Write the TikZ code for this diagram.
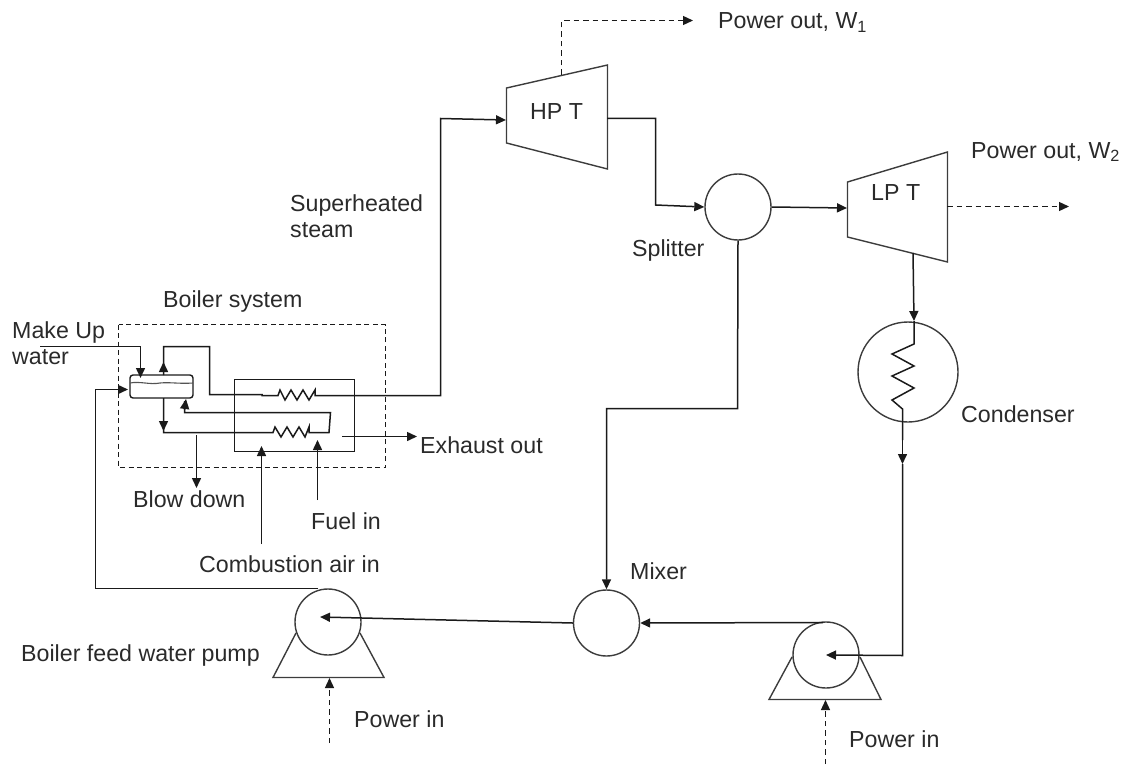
\documentclass[tikz,border=0pt]{standalone}
\usepackage{fontspec}
\setmainfont{Liberation Sans}
\usetikzlibrary{arrows.meta,calc}
\definecolor{ink}{HTML}{1A1A1A}
\definecolor{lab}{HTML}{2A2A2A}
\tikzset{
  pipe/.style={draw=ink,line width=1.5pt,line join=miter},
  flow/.style={pipe,-{Triangle[length=10pt,width=9pt]}},
  dflow/.style={flow,line width=1.3pt,dash pattern=on 5.5pt off 4pt},
  shapeline/.style={draw=ink!85,line width=1.4pt},
  disc/.style={circle,draw=ink!85,line width=1.4pt,inner sep=0pt,minimum size=#1},
  lbl/.style={text=lab,font=\fontsize{23.2pt}{26pt}\selectfont,inner sep=0pt,anchor=base west},
  lbll/.style={lbl,align=left,anchor=north west}
}
\begin{document}
\begin{tikzpicture}[x=1pt,y=-1pt]
\useasboundingbox (0,0) rectangle (1126,765);
% --- units
\node[disc=66pt] (splitter) at (738,207) {};
\node[disc=66pt] (mixer) at (606.5,623) {};
\node[disc=66pt] (pumpA) at (328,622) {};
\node[disc=66pt] (pumpB) at (826,655) {};
\node[disc=100pt] (cond) at (908,372) {};
\coordinate (pumpAc) at (320,617);
\coordinate (pumpBc) at (826,655);
% turbines
\path[shapeline] (506.5,88) -- (607.5,65) -- (607.5,169) -- (506.5,143) -- cycle;
\path[shapeline] (847.5,182) -- (947.5,152) -- (947.5,262) -- (847.5,237) -- cycle;
\node[lbl] (hp) at (530,120) {HP T};
\node[lbl] (lp) at (871,200) {LP T};
% pump bases
\draw[shapeline] (296,633) -- (273,677.5) -- (384,677.5) -- (360,633);
\draw[shapeline] (792,657) -- (769,699.5) -- (881,699.5) -- (860,657);
% boiler
\draw[draw=ink,line width=1.3pt,dash pattern=on 5pt off 3.5pt] (118.5,324.5) rectangle (385.5,467.5);
\node[draw=ink,line width=1.4pt,rounded corners=3pt,minimum width=63pt,minimum height=23pt,inner sep=0pt] (drum) at (161.5,386.5) {};
\draw[ink!75,line width=1.1pt] (130,383) .. controls (140,381) and (150,385) .. (160,383) .. controls (170,382) and (180,384) .. (193,383);
\draw[pipe] (234.5,379.5) rectangle (354.5,451.5);
\coordinate (w1) at (40,346.5);
\coordinate (w2) at (140.5,346.5);
\coordinate (w3) at (140.5,378);
\draw[flow] (w1) -- (w2) -- (w3);
% coil top and superheated steam
\coordinate (hptin) at (506,120);
\draw[flow] (163.5,375) -- (163.5,346.5) -- (209.5,346.5) -- (209.5,394.5) -- (262,394.5) -- (262,395.5) -- (278,395.5)
  -- (280,390) -- (285,400) -- (291,390) -- (297,400) -- (303,390) -- (309,400) -- (315,390) -- (315,395.5)
  -- (440.5,395.5) -- (440.5,118.5) -- (hptin);
\draw[flow] (163.5,375) -- (163.5,362);
% lower coil
\draw[pipe] (163.5,398) -- (163.5,432.5) -- (273,432.5) -- (275,427) -- (281,437) -- (287,427) -- (293,437) -- (299,427) -- (305,437) -- (309,427) -- (309,432.5) -- (329,432.5) -- (330.5,412.5) -- (184.5,412.5) -- (184.5,401);
\draw[flow] (184.5,410) -- (186,399);
\draw[flow] (163.5,398) -- (163.5,431);
% small flows
\coordinate (bd1) at (196.5,435); \coordinate (bd2) at (196.5,488);
\draw[flow] (bd1) -- (bd2);
\coordinate (ex1) at (342,436.5); \coordinate (ex2) at (417,436.5);
\draw[flow] (ex1) -- (ex2);
\coordinate (air1) at (261.5,544); \coordinate (air2) at (261.5,446);
\draw[flow] (air1) -- (air2);
\coordinate (fu1) at (317.5,500); \coordinate (fu2) at (317.5,440);
\draw[flow] (fu1) -- (fu2);
% feed line
\coordinate (feedin) at (128,389.5);
\draw[flow] (318,588.5) -- (95.5,588.5) -- (95.5,389.5) -- (feedin);
% main loop
\coordinate (hpout) at (607,118.5);
\coordinate (lpin) at (847,208);
\draw[flow] (hpout) -- (655.5,118.5) -- (655.5,205) -- (splitter.west);
\draw[flow] (splitter.east) -- (lpin);
\draw[flow] (splitter.south) -- (737.5,408.5) -- (606.5,408.5) -- (mixer.north);
\draw[flow] (mixer.west) -- (pumpAc);
\draw[flow] (823,622.5) -- (mixer.east);
\draw[flow] (913,253) -- (914,321);
\draw[pipe] (914,321) -- (914,344) -- (892,354) -- (914,366) -- (892,376) -- (914,388) -- (892,400) -- (902.5,409) -- (902.5,440);
\draw[flow] (902.5,440) -- (902.5,464);
\draw[flow] (902.5,464) -- (902.5,655.5) -- (pumpBc);
% power
\draw[dflow] (561.5,75) -- (561.5,20.5) -- (693,20.5);
\draw[dflow] (947,206.5) -- (1069,206.5);
\draw[dflow] (329.5,743) -- (329.5,678);
\draw[dflow] (825.5,764) -- (825.5,700);
% labels
\node[lbl] (pw1) at (718,29) {Power out, W\textsubscript{1}};
\node[lbl] (pw2) at (971,158) {Power out, W\textsubscript{2}};
\node[lbll] (sh) at (290,194) {Superheated\\steam};
\node[lbl] (spl) at (632,256) {Splitter};
\node[lbl] (bs) at (163,307) {Boiler system};
\node[lbll] (mu) at (12,321) {Make Up\\water};
\node[lbl] (exh) at (420,453) {Exhaust out};
\node[lbl] (bdl) at (133,507) {Blow down};
\node[lbl] (ful) at (311,529) {Fuel in};
\node[lbl] (ca) at (199,572) {Combustion air in};
\node[lbl] (mx) at (630,579) {Mixer};
\node[lbl] (cn) at (961,422) {Condenser};
\node[lbl] (bf) at (21,661) {Boiler feed water pump};
\node[lbl] (p1) at (354,727) {Power in};
\node[lbl] (p2) at (849,747) {Power in};
\end{tikzpicture}
\end{document}
